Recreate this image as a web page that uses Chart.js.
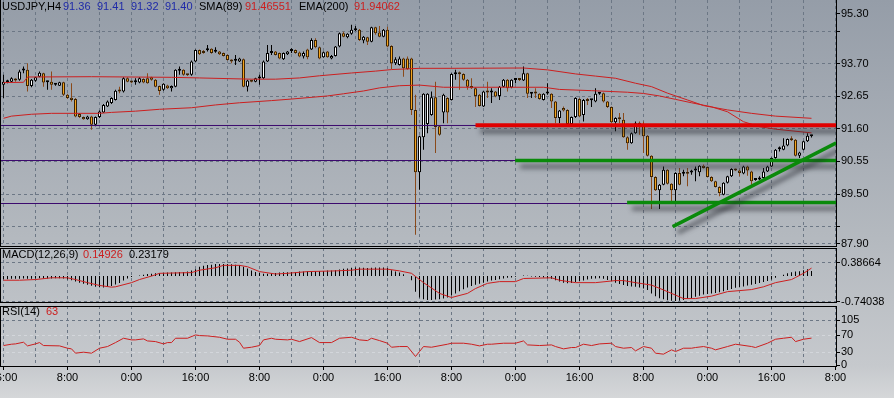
<!DOCTYPE html>
<html>
<head>
<meta charset="utf-8">
<title>USDJPY,H4</title>
<script src="https://cdn.jsdelivr.net/npm/chart.js"></script>
<style>
  html, body { margin: 0; padding: 0; }
  body {
    width: 894px; height: 398px; overflow: hidden; position: relative;
    background: linear-gradient(to bottom, #959da8 0%, #b4b9bf 60%, #c6c9cd 92%, #d5d7d9 100%);
  }
  canvas { position: absolute; left: 0; }
</style>
</head>
<body>
<canvas id="priceChart" width="894" height="250" style="top:0"></canvas>
<canvas id="macdChart" width="894" height="60" style="top:248px"></canvas>
<canvas id="rsiChart" width="894" height="93" style="top:305px"></canvas>
<script>
// USDJPY H4, oldest bar first
const timeLabels = ['16:00','8:00','0:00','16:00','8:00','0:00','16:00','8:00','0:00','16:00','8:00','0:00','16:00','8:00'];

const opens = [
  93.02,93.10,93.12,93.21,93.18,93.48,93.50,92.98,93.15,93.28,
  93.39,93.10,93.12,93.02,92.99,93.10,92.70,92.60,92.56,92.08,
  91.98,91.91,92.00,91.73,91.98,92.13,92.32,92.43,92.53,92.83,
  92.80,93.23,93.12,93.10,93.09,93.21,93.23,93.26,93.18,92.98,
  92.86,93.00,92.91,92.96,93.47,93.50,93.34,93.34,93.77,94.14,
  94.11,94.13,94.18,94.08,94.09,94.04,93.98,93.82,93.79,93.77,
  93.84,92.96,93.16,93.12,93.22,93.23,93.77,94.04,94.09,94.04,
  93.84,94.00,94.11,94.14,94.06,93.93,94.16,94.16,94.46,94.23,
  93.91,94.09,93.87,93.95,94.25,94.68,94.55,94.66,94.78,94.79,
  94.45,94.55,94.41,94.87,94.70,94.57,94.79,94.27,93.71,93.66,
  93.87,93.87,93.87,92.21,90.20,91.33,91.76,92.05,92.62,91.68,
  92.13,92.59,92.53,93.36,93.37,93.37,93.18,92.98,92.91,92.70,
  92.32,92.78,92.77,92.80,92.66,92.96,93.18,92.93,93.17,93.18,
  93.16,93.39,92.73,92.75,92.73,92.53,92.74,92.73,92.48,91.95,
  92.27,92.21,91.76,91.98,92.56,92.05,92.51,92.52,92.48,92.73,
  92.75,92.48,92.30,91.81,91.92,91.89,91.33,91.14,91.46,91.74,
  91.73,91.38,90.73,90.05,89.62,89.80,90.28,89.83,89.62,90.18,
  90.15,90.16,90.19,90.26,90.20,90.41,90.37,90.05,89.91,89.73,
  89.48,89.86,90.07,90.30,90.26,90.16,90.39,90.23,89.95,89.97,
  90.02,90.23,90.39,90.66,90.94,90.93,91.06,91.30,91.25,90.73,
  90.93,91.20,91.36
];
const highs = [
  93.34,93.18,93.26,93.23,93.50,93.61,93.71,93.21,93.28,93.45,
  93.41,93.15,93.45,93.07,93.12,93.12,92.73,93.07,92.59,92.11,
  92.00,92.02,92.02,92.00,92.19,92.40,92.51,92.62,92.86,92.96,
  93.26,93.26,93.15,93.23,93.26,93.23,93.39,93.28,93.21,93.00,
  93.07,93.02,93.00,93.52,93.61,93.52,93.37,93.80,94.16,94.16,
  94.14,94.30,94.20,94.23,94.11,94.06,94.00,93.84,93.98,93.89,
  93.87,93.18,93.18,93.25,93.34,93.80,94.30,94.30,94.11,94.06,
  94.06,94.11,94.20,94.16,94.09,94.09,94.18,94.52,94.52,94.25,
  94.09,94.11,93.98,94.27,94.70,94.73,94.68,94.95,94.91,94.82,
  94.59,94.57,94.89,94.89,94.91,94.82,94.89,94.29,93.91,93.93,
  93.89,93.93,93.89,92.70,91.38,92.75,92.75,92.80,93.12,91.70,
  92.73,92.62,93.39,93.50,93.45,93.39,93.21,93.23,92.93,92.72,
  92.82,93.12,92.91,92.82,92.98,93.21,93.21,93.20,93.23,93.21,
  93.61,93.41,92.76,92.91,92.75,92.75,93.07,92.75,92.50,92.21,
  92.32,92.23,92.00,92.62,92.59,92.56,92.59,92.55,92.91,92.78,
  92.77,92.50,92.32,91.97,92.11,92.11,91.36,91.48,91.84,91.84,
  91.84,91.40,90.75,90.07,89.82,90.39,90.30,89.85,90.20,90.34,
  90.28,90.34,90.28,90.39,90.43,90.45,90.39,90.07,89.93,89.75,
  89.88,90.09,90.33,90.32,90.28,90.41,90.41,90.25,89.98,90.07,
  90.34,90.41,90.68,90.95,91.03,91.30,91.29,91.36,91.27,90.86,
  91.22,91.46,91.41
];
const lows = [
  92.59,93.07,93.10,93.12,93.15,93.39,92.80,92.94,93.12,93.26,
  92.96,92.86,92.86,92.99,92.98,92.66,92.56,92.48,91.97,91.95,
  91.89,91.89,91.57,91.68,91.95,92.11,92.30,92.40,92.51,92.75,
  92.77,93.10,93.07,93.02,93.07,93.07,93.05,93.15,92.94,92.70,
  92.83,92.88,92.80,92.94,93.34,93.31,93.30,93.31,93.75,93.98,
  94.02,94.09,94.02,94.05,93.98,93.93,93.80,93.71,93.66,93.75,
  92.94,92.80,93.10,93.10,93.02,93.21,93.75,93.98,93.96,93.84,
  93.82,93.98,94.04,94.02,93.91,93.87,93.84,94.14,94.20,93.84,
  93.89,93.89,93.84,93.93,94.23,94.55,94.52,94.63,94.75,94.43,
  94.36,94.30,94.39,94.63,94.55,94.55,94.23,93.52,93.66,93.64,
  93.28,93.50,92.05,88.19,89.64,90.93,91.46,92.02,90.82,91.38,
  91.78,91.78,92.51,93.18,92.86,93.15,92.86,92.88,92.30,92.32,
  92.30,92.59,92.43,92.62,92.53,92.94,92.80,92.91,93.07,93.14,
  93.14,92.59,92.59,92.59,92.54,92.51,92.70,92.27,91.78,91.78,
  92.16,91.74,91.74,91.95,91.97,91.84,92.37,92.30,92.46,92.70,
  92.45,92.27,91.78,91.52,91.78,91.31,90.93,91.12,91.44,91.41,
  90.82,90.71,89.02,89.60,89.02,89.78,89.81,89.27,89.27,89.78,
  90.07,89.75,90.12,89.91,90.07,90.32,90.03,89.89,89.71,89.43,
  89.46,89.84,90.05,90.24,90.07,90.14,90.09,89.80,89.93,89.95,
  90.00,90.21,90.37,90.64,90.87,90.91,91.04,91.21,90.71,90.66,
  90.91,91.18,91.32
];
const closes = [
  93.12,93.15,93.23,93.16,93.45,93.50,92.98,93.18,93.26,93.41,
  93.09,93.12,93.02,93.03,93.10,92.70,92.59,92.53,92.00,91.98,
  91.91,92.00,91.73,91.98,92.16,92.37,92.48,92.59,92.83,92.80,
  93.23,93.12,93.09,93.12,93.23,93.09,93.07,93.18,92.96,92.82,
  93.05,92.91,92.98,93.50,93.50,93.34,93.33,93.77,94.14,94.00,
  94.04,94.14,94.04,94.09,94.00,93.95,93.82,93.77,93.80,93.87,
  92.96,93.16,93.12,93.23,93.23,93.77,94.04,94.06,93.98,93.87,
  94.04,94.09,94.12,94.04,93.93,94.04,93.91,94.46,94.23,93.87,
  94.07,93.91,93.95,94.25,94.68,94.57,94.66,94.79,94.79,94.46,
  94.57,94.41,94.87,94.68,94.57,94.79,94.25,93.71,93.84,93.87,
  93.55,93.52,92.21,90.20,91.36,92.73,92.73,92.62,91.66,91.41,
  92.70,92.13,93.37,93.38,93.36,93.18,92.96,92.91,92.66,92.34,
  92.80,92.77,92.78,92.64,92.96,93.18,92.91,93.18,93.18,93.17,
  93.39,92.73,92.74,92.74,92.56,92.73,92.75,92.48,91.95,92.19,
  92.19,91.76,91.98,92.59,92.00,92.53,92.50,92.53,92.73,92.74,
  92.48,92.30,91.81,91.95,91.91,91.33,91.14,91.46,91.78,91.73,
  91.36,90.73,90.05,89.62,89.80,90.28,89.83,89.62,90.18,89.80,
  90.16,90.15,90.20,90.27,90.41,90.34,90.05,89.91,89.73,89.53,
  89.86,90.07,90.31,90.26,90.18,90.39,90.26,89.91,89.96,89.98,
  90.23,90.39,90.66,90.93,90.95,91.06,91.27,91.23,90.73,90.84,
  91.20,91.38,91.40
];

// moving averages, read at the bars where the line bends
const smaBars = [0,2,7,12,24,27,33,39,47,53,59,67,72,81,85,90,94,99,104,110,135,139,147,156,160,164,168,172,177,181,185,189,193,202];
const smaVals = [91.94,92.01,92.07,92.10,92.10,92.13,92.17,92.23,92.28,92.37,92.44,92.51,92.56,92.66,92.73,92.82,92.92,92.99,93.01,92.94,92.94,92.87,92.83,92.78,92.74,92.66,92.55,92.44,92.31,92.15,91.83,91.67,91.59,91.47];
const emaBars = [0,5,6,22,42,49,62,68,74,79,87,93,97,104,112,130,136,143,148,153,158,162,166,171,175,181,187,193,202];
const emaVals = [93.09,93.10,93.27,93.28,93.26,93.24,93.20,93.20,93.24,93.31,93.40,93.46,93.51,93.55,93.55,93.56,93.50,93.37,93.30,93.23,93.07,92.96,92.75,92.53,92.35,92.21,92.10,92.01,91.94];

// drawn objects: [bar, price]
const levelLines = [91.708, 90.580, 89.195];
const redLevel = [[118.0, 91.72], [208.2, 91.72]];
const greenUpper = [[127.9, 90.58], [208.2, 90.58]];
const greenLower = [[155.9, 89.23], [208.2, 89.23]];
const greenTrend = [[167.3, 88.45], [208.2, 91.15]];

const priceTicks = [87.90, 88.45, 89.50, 90.55, 91.60, 92.65, 93.70, 94.75, 95.30];
const priceLabels = ['87.90', '', '89.50', '90.55', '91.60', '92.65', '93.70', '', '95.30'];

// MACD(12,26,9): main line per bar, signal read at bends
const macdVals = [
  -0.09,-0.09,-0.08,-0.08,-0.08,-0.07,-0.08,-0.08,-0.07,-0.06,-0.07,-0.07,-0.07,-0.06,-0.06,-0.07,
  -0.10,-0.12,-0.16,-0.19,-0.22,-0.25,-0.28,-0.31,-0.32,-0.33,-0.31,-0.29,-0.24,-0.20,-0.13,-0.07,-0.03,
  0.00,0.02,0.04,0.06,0.07,0.08,0.08,0.09,0.10,0.10,0.11,0.12,0.12,0.13,0.16,0.20,
  0.27,0.30,0.32,0.33,0.35,0.35,0.35,0.35,0.34,0.33,0.31,0.27,0.22,0.16,0.12,0.09,
  0.07,0.07,0.08,0.09,0.10,0.11,0.11,0.12,0.12,0.13,0.13,0.14,0.15,0.15,0.15,0.15,
  0.16,0.16,0.17,0.19,0.21,0.22,0.24,0.25,0.25,0.24,0.23,0.24,0.25,0.25,0.25,0.23,
  0.17,0.13,0.10,0.05,0.00,-0.12,-0.45,-0.62,-0.67,-0.69,-0.69,-0.68,-0.67,-0.65,-0.62,
  -0.56,-0.50,-0.44,-0.38,-0.33,-0.29,-0.25,-0.22,-0.19,-0.16,-0.13,-0.11,-0.09,-0.07,-0.05,-0.04,-0.02,0.00,
  0.02,0.01,-0.01,-0.02,-0.03,-0.04,-0.06,-0.08,-0.12,-0.16,-0.19,-0.21,-0.20,-0.17,-0.15,-0.13,-0.10,-0.08,-0.07,-0.06,
  -0.08,-0.11,-0.15,-0.19,-0.23,-0.26,-0.29,-0.30,-0.31,-0.33,-0.36,-0.40,-0.50,-0.58,-0.64,-0.67,-0.70,-0.71,-0.72,-0.71,
  -0.69,-0.66,-0.63,-0.60,-0.57,-0.53,-0.52,-0.50,-0.49,-0.47,-0.44,-0.40,-0.37,-0.34,-0.32,-0.30,-0.27,-0.25,-0.23,-0.20,
  -0.17,-0.14,-0.10,-0.05,0.00,0.04,0.08,0.11,0.13,0.14,0.17,0.20,0.15
];
const signalBars = [0,4,8,12,16,18,21,24,27,28,32,34,37,39,47,49,53,55,59,61,64,68,71,76,83,87,89,96,99,102,105,109,112,116,118,121,124,128,130,137,139,143,148,153,155,158,162,165,168,170,173,177,181,184,187,190,193,197,198,200,202];
const signalVals = [-0.12,-0.12,-0.10,-0.05,-0.05,-0.10,-0.19,-0.27,-0.32,-0.31,-0.19,-0.10,0.00,0.08,0.10,0.17,0.24,0.31,0.31,0.27,0.13,0.06,0.08,0.13,0.15,0.17,0.20,0.20,0.15,0.08,-0.19,-0.50,-0.62,-0.50,-0.36,-0.21,-0.16,-0.16,-0.07,-0.05,-0.12,-0.19,-0.19,-0.13,-0.13,-0.19,-0.26,-0.40,-0.55,-0.65,-0.65,-0.58,-0.45,-0.42,-0.39,-0.31,-0.19,-0.10,-0.04,0.08,0.23];
const macdTicks = [-0.74038, 0.38664];

// RSI(14)
const rsiBars = [0,2,3,5,6,8,9,10,14,16,17,18,20,22,24,26,28,30,32,33,35,36,38,40,41,42,43,46,48,49,51,54,56,58,59,60,62,64,65,67,68,71,72,74,77,79,82,84,87,89,91,92,94,96,97,99,101,103,104,105,107,111,112,115,117,119,121,122,125,128,130,131,134,137,138,140,142,143,145,147,149,152,153,155,157,158,160,162,163,165,167,168,170,172,173,175,177,178,181,183,187,188,191,193,195,197,198,200,202];
const rsiVals = [45.8,48.9,49.6,53.5,45.0,49.6,52.7,45.8,45.0,39.6,38.1,28.1,30.4,28.1,39.6,43.5,52.7,62.7,58.9,58.9,61.2,56.5,55.0,49.6,52.7,52.7,62.7,62.7,70.4,68.9,68.1,65.0,60.4,60.4,53.5,39.6,41.9,45.8,58.9,62.7,60.4,58.9,60.4,55.0,64.2,52.7,52.7,62.7,65.0,58.9,57.3,62.7,57.3,51.2,41.9,43.5,43.5,20.4,31.9,43.5,41.9,48.9,51.2,51.2,48.9,45.0,48.9,48.9,51.2,51.2,56.5,47.3,45.8,47.3,43.5,38.1,41.2,41.2,48.9,45.8,49.6,51.2,43.5,39.6,41.2,33.5,43.5,39.6,28.1,25.8,35.8,31.9,39.6,39.6,41.2,43.5,39.6,35.8,43.5,48.9,43.5,41.2,51.2,60.4,62.7,65.0,55.0,60.4,63];
const rsiTicks = [0, 30, 70, 105];

// ---------------------------------------------------------------
const FONT = "'Liberation Sans', Arial, sans-serif";
Chart.defaults.font.family = FONT;
Chart.defaults.font.size = 11;
Chart.defaults.color = '#000';

const GRID = '#6c7785';
const RED = '#cc1f1f';
const BLUE = '#1f2aa8';
const GREEN = '#0a8a0a';
const X_MIN = -0.875, X_MAX = 208.125;   // 4 px per bar across the 836 px plot
const gridBars = [];
for (let b = 0; b <= 208; b += 8) gridBars.push(b);

const pts = (bars, vals) => bars.map((b, k) => ({x: b, y: vals[k]}));
const seg = line => line.map(([x, y]) => ({x, y}));
const flat = v => [{x: X_MIN, y: v}, {x: X_MAX, y: v}];
const last = closes.length - 1;

const isUp = closes.map((c, i) => c >= opens[i]);
const bodyFill = isUp.map(u => (u ? '#ffffff' : '#f4a41e'));
const bodyEdge = isUp.map(u => (u ? '#000000' : '#3c2404'));
const wickColor = isUp.map(u => (u ? '#000000' : '#8a4a1a'));

// panel caption text
const panelText = {
  id: 'panelText',
  afterDraw(chart, args, opts) {
    const ctx = chart.ctx;
    ctx.save();
    ctx.font = '11px ' + FONT;
    ctx.textBaseline = 'middle';
    ctx.textAlign = 'left';
    (opts.items || []).forEach(([txt, color, x]) => {
      ctx.fillStyle = color;
      ctx.fillText(txt, x, opts.y);
    });
    ctx.restore();
  }
};
// left frame edge + top edge of sub windows
const frame = {
  id: 'frame',
  afterDraw(chart, args, opts) {
    const {ctx, chartArea: a} = chart;
    ctx.save();
    ctx.strokeStyle = '#000';
    ctx.lineWidth = 1;
    ctx.beginPath();
    ctx.moveTo(0.5, a.top);
    ctx.lineTo(0.5, a.bottom);
    if (opts.top) {
      ctx.moveTo(0, a.top + 0.5);
      ctx.lineTo(a.right, a.top + 0.5);
    }
    ctx.stroke();
    ctx.restore();
  }
};
// drop shadow under the drawn trend lines
const shadow = {
  id: 'shadow',
  beforeDatasetDraw(chart, args) {
    if (!chart.data.datasets[args.index].shadow) return;
    const ctx = chart.ctx;
    ctx.save();
    ctx.shadowColor = 'rgba(40,43,50,0.7)';
    ctx.shadowBlur = 5;
    ctx.shadowOffsetX = 5;
    ctx.shadowOffsetY = 6;
  },
  afterDatasetDraw(chart, args) {
    if (chart.data.datasets[args.index].shadow) chart.ctx.restore();
  }
};

function timeAxis(withLabels) {
  return {
    type: 'linear', min: X_MIN, max: X_MAX, offset: false, bounds: 'data',
    afterBuildTicks: s => { s.ticks = gridBars.map(v => ({value: v})); },
    afterFit: s => { s.paddingLeft = 0; s.paddingRight = 0; s.height = withLabels ? 32 : 0; },
    grid: {
      offset: false, color: GRID, drawTicks: withLabels, tickLength: 4,
      tickColor: c => (c.index % 2 === 0 ? '#000' : 'rgba(0,0,0,0)')
    },
    border: { display: true, color: '#000', dash: [3, 3] },
    ticks: {
      display: withLabels, autoSkip: false, maxRotation: 0, minRotation: 0, padding: 1,
      callback: (v, i) => (i % 2 === 0 ? timeLabels[i / 2] : '')
    }
  };
}

function valueAxis(min, max, ticks, label, gridColor) {
  return {
    position: 'right', min, max, bounds: 'data', beginAtZero: false,
    afterBuildTicks: s => { s.ticks = ticks.map(v => ({value: v})); },
    afterFit: s => { s.width = 58; s.paddingTop = 0; s.paddingBottom = 0; },
    grid: { color: gridColor, tickLength: 4, tickColor: '#000' },
    border: { color: '#000', dash: [3, 3] },
    ticks: { autoSkip: false, padding: 1, callback: label }
  };
}

const common = {
  responsive: false, animation: false, events: [],
  elements: { point: { radius: 0 }, line: { tension: 0, fill: false } }
};

// ---------------- price window ----------------
new Chart(document.getElementById('priceChart'), {
  type: 'bar',
  data: {
    datasets: [
      { type: 'line', data: seg(greenTrend), borderColor: GREEN, borderWidth: 3.5, shadow: true, order: 1 },
      { type: 'line', data: seg(greenLower), borderColor: GREEN, borderWidth: 3.5, shadow: true, order: 1 },
      { type: 'line', data: seg(greenUpper), borderColor: GREEN, borderWidth: 3.5, shadow: true, order: 1 },
      { type: 'line', data: seg(redLevel), borderColor: '#e00000', borderWidth: 4, shadow: true, order: 1 },
      ...levelLines.map(v => ({ type: 'line', data: flat(v), borderColor: '#3c0a6e', borderWidth: 1, order: 2 })),
      { type: 'line', data: pts(emaBars, emaVals), borderColor: RED, borderWidth: 1, order: 3 },
      { type: 'line', data: pts(smaBars, smaVals), borderColor: RED, borderWidth: 1, order: 3 },
      {
        data: closes.map((c, i) => ({x: i, y: [opens[i], c]})),
        backgroundColor: bodyFill, borderColor: bodyEdge, borderWidth: 1, borderSkipped: false,
        barThickness: 3, minBarLength: 2, grouped: false, inflateAmount: 0, order: 4
      },
      {
        data: closes.map((c, i) => ({x: i, y: [lows[i], highs[i]]})),
        backgroundColor: wickColor, borderWidth: 0,
        barThickness: 1, grouped: false, inflateAmount: 0, order: 5
      }
    ]
  },
  options: {
    ...common,
    layout: { padding: { bottom: 4 } },
    scales: {
      x: timeAxis(false),
      y: valueAxis(87.826, 95.751, priceTicks, (v, i) => priceLabels[i],
        c => (c.index === priceTicks.length - 1 ? 'rgba(0,0,0,0)' : GRID))
    },
    plugins: {
      legend: { display: false }, tooltip: { enabled: false },
      frame: { top: false },
      panelText: {
        y: 7,
        items: [
          ['USDJPY,H4', '#000', 2],
          [opens[last].toFixed(2), BLUE, 63],
          [highs[last].toFixed(2), BLUE, 97],
          [lows[last].toFixed(2), BLUE, 131],
          [closes[last].toFixed(2), BLUE, 165],
          ['SMA(89)', '#000', 199],
          ['91.46551', RED, 245],
          ['EMA(200)', '#000', 299],
          ['91.94062', RED, 354]
        ]
      }
    }
  },
  plugins: [shadow, frame, panelText]
});

// ---------------- MACD window ----------------
new Chart(document.getElementById('macdChart'), {
  type: 'bar',
  data: {
    datasets: [
      { type: 'line', data: pts(signalBars, signalVals), borderColor: RED, borderWidth: 1, order: 1 },
      {
        data: macdVals.map((v, i) => ({x: i, y: v})),
        backgroundColor: '#000', borderWidth: 0,
        barThickness: 1, grouped: false, inflateAmount: 0, order: 2
      }
    ]
  },
  options: {
    ...common,
    layout: { padding: { bottom: 6 } },
    scales: {
      x: timeAxis(false),
      y: valueAxis(-0.749, 0.8115, macdTicks, v => v.toFixed(5), GRID)
    },
    plugins: {
      legend: { display: false }, tooltip: { enabled: false },
      frame: { top: true },
      panelText: {
        y: 7,
        items: [['MACD(12,26,9)', '#000', 2], ['0.14926', RED, 83], ['0.23179', '#000', 129]]
      }
    }
  },
  plugins: [frame, panelText]
});

// ---------------- RSI window ----------------
new Chart(document.getElementById('rsiChart'), {
  type: 'line',
  data: {
    datasets: [
      { data: pts(rsiBars, rsiVals), borderColor: RED, borderWidth: 1 }
    ]
  },
  options: {
    ...common,
    layout: { padding: { top: 1 } },
    scales: {
      x: timeAxis(true),
      y: valueAxis(-1.62, 137.45, rsiTicks, v => String(v),
        c => {
          const v = c.tick.value;
          if (v === 0) return 'rgba(0,0,0,0)';
          if (v === 30 || v === 70) return 'rgba(215,218,222,0.8)';
          return GRID;
        })
    },
    plugins: {
      legend: { display: false }, tooltip: { enabled: false },
      frame: { top: true },
      panelText: {
        y: 7,
        items: [['RSI(14)', '#000', 2], [String(rsiVals[rsiVals.length - 1]), RED, 46]]
      }
    }
  },
  plugins: [frame, panelText]
});
</script>
</body>
</html>
